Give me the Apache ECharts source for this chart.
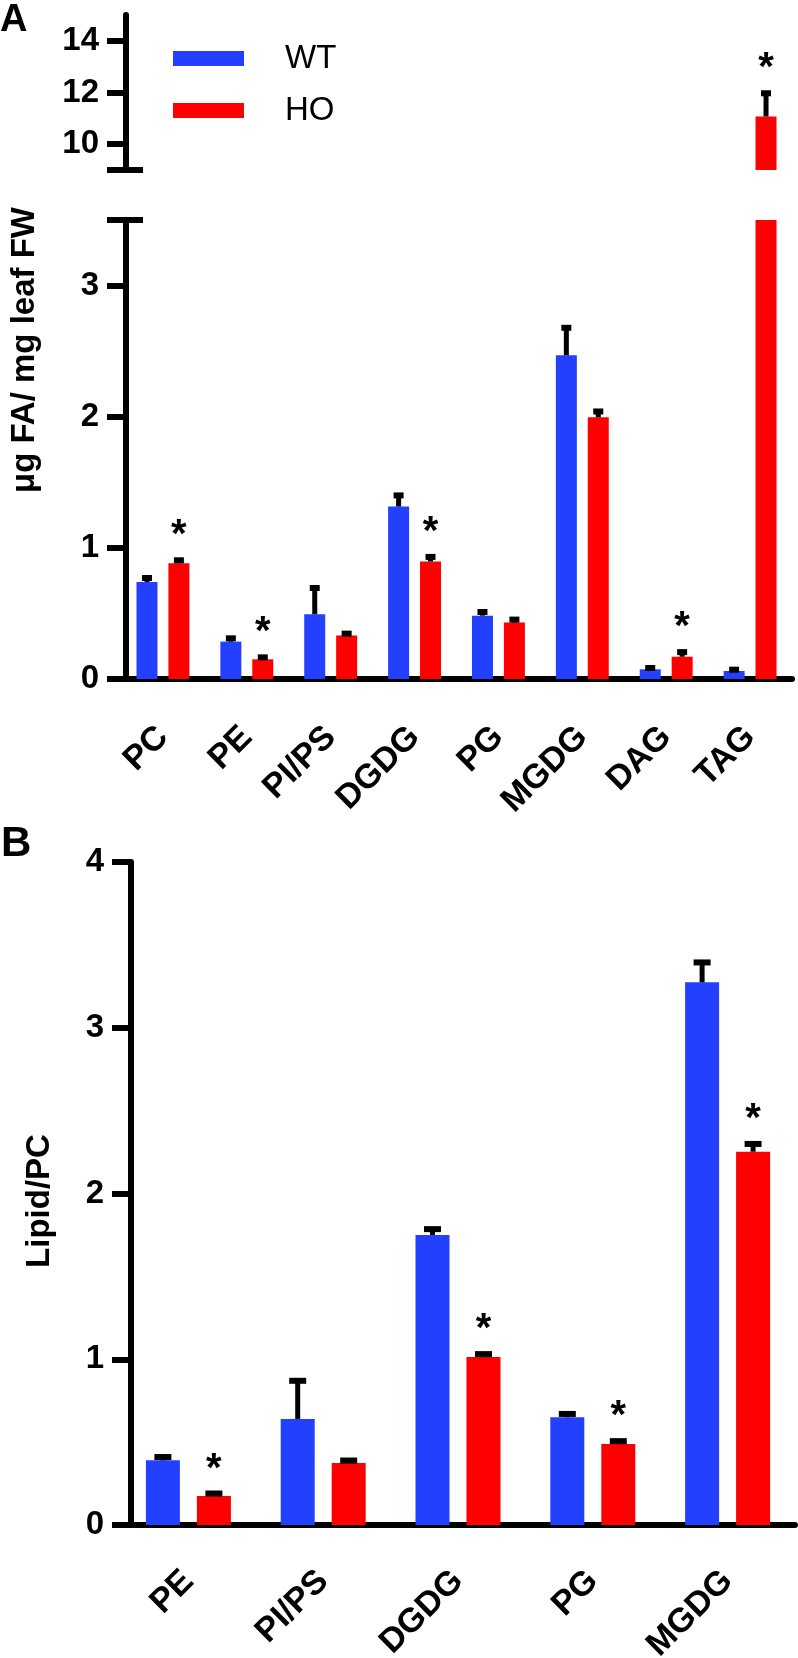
<!DOCTYPE html>
<html><head><meta charset="utf-8">
<script src="https://cdn.jsdelivr.net/npm/echarts@6/dist/echarts.min.js"></script>
<style>html,body{margin:0;padding:0;background:#fff}#c{width:798px;height:1658px}</style>
</head><body><div id="c"></div>
<script>
// ---- data ----
const categoriesA = ['PC','PE','PI/PS','DGDG','PG','MGDG','DAG','TAG'];
const wtA    = [0.74, 0.285, 0.494, 1.315, 0.483, 2.468, 0.074, 0.061];
const wtErrA = [0.03, 0.025, 0.20, 0.085, 0.028, 0.21, 0.01, 0.01];
const hoA    = [0.883, 0.15, 0.331, 0.896, 0.43, 1.995, 0.17, 11.07];
const hoErrA = [0.022, 0.015, 0.015, 0.035, 0.023, 0.045, 0.035, 0.9];
const sigA   = [true, true, false, true, false, false, true, true];
const upperTicksA = [10, 12, 14];
const lowerTicksA = [0, 1, 2, 3];

const categoriesB = ['PE','PI/PS','DGDG','PG','MGDG'];
const wtB    = [0.39, 0.64, 1.75, 0.65, 3.274];
const wtErrB = [0.02, 0.23, 0.035, 0.02, 0.12];
const hoB    = [0.175, 0.374, 1.013, 0.488, 2.252];
const hoErrB = [0.015, 0.015, 0.018, 0.018, 0.047];
const sigB   = [true, false, true, true, true];
const ticksB = [0, 1, 2, 3, 4];

// ---- styles ----
const FONT = '"Liberation Sans", Arial, Helvetica, sans-serif';
const BLUE = '#2340ff', RED = '#ff0000', INK = '#000';
const AXW = 6;

function errSeries(xi, yi, vals, errs, sign, barW, gap, capW) {
  return {
    type: 'custom', xAxisIndex: xi, yAxisIndex: yi, clip: true, z: 5, silent: true,
    data: vals.map((v, i) => [i, v, errs[i]]),
    renderItem(params, api) {
      const i = api.value(0), v = api.value(1), e = api.value(2);
      const off = sign * barW * (1 + gap) / 2;
      const p0 = api.coord([i, v]), p1 = api.coord([i, v + e]);
      const x = p0[0] + off;
      return { type: 'group', children: [
        { type: 'line', shape: { x1: x, y1: p0[1], x2: x, y2: p1[1] }, style: { stroke: INK, lineWidth: 5 } },
        { type: 'rect', shape: { x: x - capW / 2, y: p1[1] - 3, width: capW, height: 6 }, style: { fill: INK } }
      ]};
    }
  };
}
function starSeries(xi, yi, vals, errs, sig, barW, gap) {
  const d = [];
  vals.forEach((v, i) => { if (sig[i]) d.push([i, v + errs[i]]); });
  return {
    type: 'custom', xAxisIndex: xi, yAxisIndex: yi, clip: true, z: 6, silent: true,
    data: d,
    renderItem(params, api) {
      const p = api.coord([api.value(0), api.value(1)]);
      const off = barW * (1 + gap) / 2;
      return { type: 'text', x: p[0] + off, y: p[1] - 24,
        style: { text: '*', fill: INK, fontSize: 40, fontWeight: 'bold', fontFamily: FONT, align: 'center', verticalAlign: 'middle' } };
    }
  };
}
function barSeries(name, color, xi, yi, vals, barW, gap) {
  return { name, type: 'bar', xAxisIndex: xi, yAxisIndex: yi, data: vals, clip: true,
    barWidth: barW, barGap: (gap * 100) + '%', itemStyle: { color }, silent: true };
}

const tickLabel = { color: INK, fontSize: 33, fontWeight: 'bold', fontFamily: FONT, margin: 27 };
function catLabel(margin) {
  return { color: INK, fontSize: 34, fontWeight: 'bold', fontFamily: FONT, rotate: 45, margin, interval: 0 };
}

const gA = 0.52, bwA = 21, gB = 0.5, bwB = 34;

function capAxis(grid, min, max, val, off) {
  return { type: 'value', gridIndex: grid, position: 'left', min, max, offset: off, splitLine: { show: false },
    axisLine: { show: false }, axisLabel: { show: false },
    axisTick: { show: true, inside: true, length: 17, customValues: [val], lineStyle: { color: INK, width: 6 } } };
}

const option = {
  animation: false,
  title: [
    { text: 'A', left: 0, top: 2, padding: 0, textStyle: { fontSize: 38, fontWeight: 'bold', fontFamily: FONT, color: INK } },
    { text: 'B', left: 1, top: 823, padding: 0, textStyle: { fontSize: 42, fontWeight: 'bold', fontFamily: FONT, color: INK } }
  ],
  legend: {
    data: ['WT', 'HO'], orient: 'vertical', left: 168, top: 37, itemWidth: 71, itemHeight: 15, itemGap: 19,
    icon: 'rect', selectedMode: false,
    textStyle: { fontSize: 33, fontFamily: FONT, color: INK, padding: [0, 0, 0, 36] }
  },
  graphic: [
    { type: 'text', x: 25, y: 350, rotation: Math.PI / 2,
      style: { text: 'μg FA/ mg leaf FW', fontSize: 33, fontWeight: 'bold', fontFamily: FONT, fill: INK, align: 'center', verticalAlign: 'middle' } },
    { type: 'text', x: 40, y: 1201, rotation: Math.PI / 2,
      style: { text: 'Lipid/PC', fontSize: 33, fontWeight: 'bold', fontFamily: FONT, fill: INK, align: 'center', verticalAlign: 'middle' } }
  ],
  grid: [
    { left: 121, right: 6, top: 15, height: 155, outerBoundsMode: 'none', containLabel: false },
    { left: 121, right: 6, top: 220, height: 459, outerBoundsMode: 'none', containLabel: false },
    { left: 121, right: 3, top: 862, height: 663, outerBoundsMode: 'none', containLabel: false }
  ],
  xAxis: [
    { type: 'category', gridIndex: 0, data: categoriesA, show: false },
    { type: 'category', gridIndex: 1, data: categoriesA,
      axisLine: { lineStyle: { color: INK, width: AXW } },
      axisTick: { alignWithLabel: true, length: 20, lineStyle: { color: INK, width: 5 } },
      axisLabel: catLabel(53) },
    { type: 'category', gridIndex: 2, data: categoriesB,
      axisLine: { lineStyle: { color: INK, width: AXW } },
      axisTick: { alignWithLabel: true, length: 20, lineStyle: { color: INK, width: 5 } },
      axisLabel: catLabel(51) }
  ],
  yAxis: [
    { type: 'value', gridIndex: 0, position: 'left', min: 9, max: 15, offset: -5, splitLine: { show: false },
      axisLine: { show: true, lineStyle: { color: INK, width: AXW } },
      axisTick: { show: true, length: 19, customValues: [9].concat(upperTicksA), lineStyle: { color: INK, width: 6 } },
      axisLabel: Object.assign({ customValues: upperTicksA }, tickLabel) },
    capAxis(0, 9, 15, 9, -5),
    { type: 'value', gridIndex: 1, position: 'left', min: 0, max: 3.5, offset: -5, splitLine: { show: false },
      axisLine: { show: true, lineStyle: { color: INK, width: AXW } },
      axisTick: { show: true, length: 19, customValues: lowerTicksA.concat([3.5]), lineStyle: { color: INK, width: 6 } },
      axisLabel: Object.assign({ customValues: lowerTicksA }, tickLabel) },
    capAxis(1, 0, 3.5, 3.5, -5),
    { type: 'value', gridIndex: 2, position: 'left', min: 0, max: 4, offset: -10, splitLine: { show: false },
      axisLine: { show: true, lineStyle: { color: INK, width: AXW } },
      axisTick: { show: true, length: 19, customValues: ticksB, lineStyle: { color: INK, width: 6 } },
      axisLabel: Object.assign({ customValues: ticksB }, tickLabel) }
  ],
  series: [
    barSeries('WT', BLUE, 0, 0, wtA, bwA, gA),
    barSeries('HO', RED, 0, 0, hoA, bwA, gA),
    errSeries(0, 0, wtA, wtErrA, -1, bwA, gA, 10),
    errSeries(0, 0, hoA, hoErrA, 1, bwA, gA, 10),
    starSeries(0, 0, hoA, hoErrA, sigA, bwA, gA),

    barSeries('WT', BLUE, 1, 2, wtA, bwA, gA),
    barSeries('HO', RED, 1, 2, hoA, bwA, gA),
    errSeries(1, 2, wtA, wtErrA, -1, bwA, gA, 10),
    errSeries(1, 2, hoA, hoErrA, 1, bwA, gA, 10),
    starSeries(1, 2, hoA, hoErrA, sigA, bwA, gA),

    barSeries('WT', BLUE, 2, 4, wtB, bwB, gB),
    barSeries('HO', RED, 2, 4, hoB, bwB, gB),
    errSeries(2, 4, wtB, wtErrB, -1, bwB, gB, 17),
    errSeries(2, 4, hoB, hoErrB, 1, bwB, gB, 17),
    starSeries(2, 4, hoB, hoErrB, sigB, bwB, gB)
  ]
};
echarts.init(document.getElementById('c'), null, { renderer: 'canvas' }).setOption(option);
</script></body></html>
